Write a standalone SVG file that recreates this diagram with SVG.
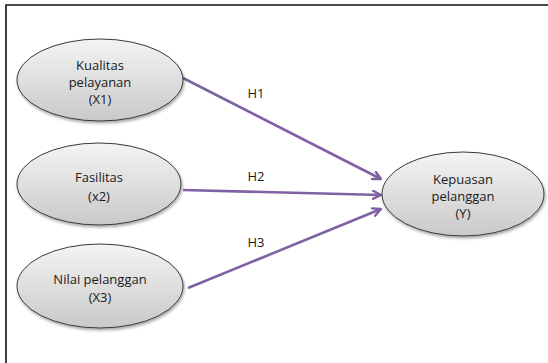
<svg xmlns="http://www.w3.org/2000/svg" width="548" height="363" viewBox="0 0 548 363">
<defs>
<linearGradient id="g" x1="0" y1="0" x2="0" y2="1">
<stop offset="0" stop-color="#f4f4f4"/>
<stop offset="1" stop-color="#c9c9c9"/>
</linearGradient>
<filter id="sh" x="-10%" y="-10%" width="125%" height="130%">
<feGaussianBlur in="SourceAlpha" stdDeviation="1.5"/>
<feOffset dx="1" dy="2" result="b"/>
<feComponentTransfer><feFuncA type="linear" slope="0.35"/></feComponentTransfer>
<feMerge><feMergeNode/><feMergeNode in="SourceGraphic"/></feMerge>
</filter>
<marker id="arr" markerWidth="10" markerHeight="10" viewBox="0 0 10 10" refX="9" refY="5" orient="auto" markerUnits="userSpaceOnUse">
<path d="M1,1 L9,5 L1,9" fill="none" stroke="#7f62a3" stroke-width="2.4" stroke-linecap="round" stroke-linejoin="round"/>
</marker>
</defs>
<style>
.n ellipse{fill:url(#g);stroke:#3a3a3a;stroke-width:1;filter:url(#sh)}
.n text,.lbl{font-family:"Open Sans","Liberation Sans",sans-serif;font-size:13px;fill:#1a1a1a;text-anchor:middle}
.c line{stroke:#7f62a3;stroke-width:2.6;marker-end:url(#arr)}
</style>
<rect width="548" height="363" fill="#fff"/>
<path d="M6,363 V5 H548" fill="none" stroke="#111" stroke-width="1.6"/>
<g class="c" id="connectors">
<line x1="183" y1="78" x2="381" y2="179"/>
<line x1="183" y1="190" x2="381" y2="195"/>
<line x1="188" y1="288" x2="381" y2="209"/>
</g>
<text class="lbl" x="256" y="98">H1</text>
<text class="lbl" x="256" y="181">H2</text>
<text class="lbl" x="256" y="247">H3</text>
<g class="n" id="x1">
<ellipse cx="100" cy="80" rx="83" ry="41"/>
<text x="100" y="70">Kualitas</text>
<text x="100" y="87">pelayanan</text>
<text x="100" y="104">(X1)</text>
</g>
<g class="n" id="x2">
<ellipse cx="99" cy="184" rx="82" ry="41"/>
<text x="99" y="182">Fasilitas</text>
<text x="99" y="201">(x2)</text>
</g>
<g class="n" id="x3">
<ellipse cx="100" cy="286" rx="83" ry="42"/>
<text x="100" y="284">Nilai pelanggan</text>
<text x="100" y="302">(X3)</text>
</g>
<g class="n" id="y">
<ellipse cx="463" cy="194" rx="81" ry="42"/>
<text x="463" y="184">Kepuasan</text>
<text x="463" y="201">pelanggan</text>
<text x="463" y="218">(Y)</text>
</g>
</svg>
